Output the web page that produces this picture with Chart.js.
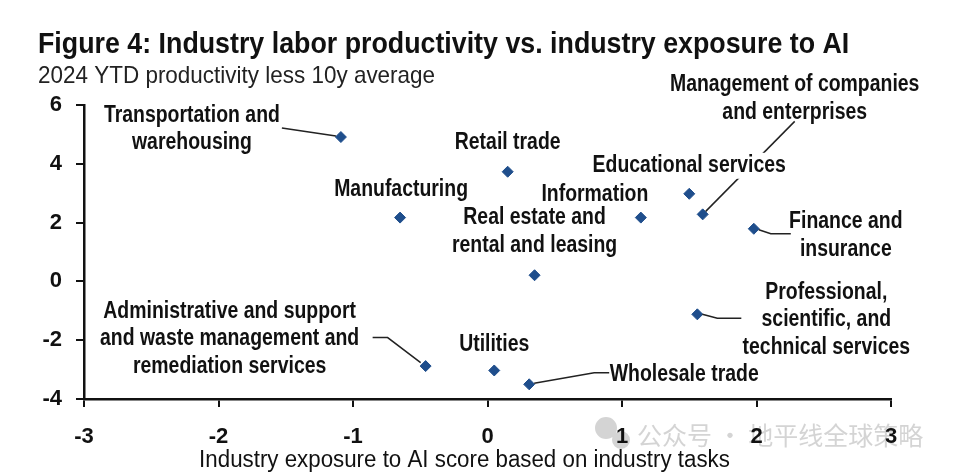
<!DOCTYPE html>
<html>
<head>
<meta charset="utf-8">
<script src="https://cdn.jsdelivr.net/npm/chart.js@4.4.1/dist/chart.umd.min.js"></script>
<style>
  html, body { margin: 0; padding: 0; background: #fff; }
</style>
</head>
<body>
<canvas id="chart" width="960" height="474"></canvas>
<script>
// data
const industries = [
    'Transportation and warehousing',
    'Manufacturing',
    'Retail trade',
    'Information',
    'Real estate and rental and leasing',
    'Educational services',
    'Management of companies and enterprises',
    'Finance and insurance',
    'Professional, scientific, and technical services',
    'Utilities',
    'Wholesale trade',
    'Administrative and support and waste management and remediation services'
];
const aiExposure = [-1.09, -0.65, 0.15, 1.14, 0.35, 1.50, 1.60, 1.98, 1.56, 0.05, 0.31, -0.46];
const productivity = [4.91, 2.17, 3.73, 2.17, 0.21, 2.98, 2.28, 1.79, -1.12, -3.03, -3.50, -2.88];
const xTicks = [-3, -2, -1, 0, 1, 2, 3];
const yTicks = [-4, -2, 0, 2, 4, 6];

const titleText = 'Figure 4: Industry labor productivity vs. industry exposure to AI';
const subtitleText = '2024 YTD productivity less 10y average';
const xTitleText = 'Industry exposure to AI score based on industry tasks';

const FONT = "'Liberation Sans', Arial, sans-serif";

// where each label sits, in pixels from its point
const labelLayout = [
    { lines: ['Transportation and', 'warehousing'], dx: -149, dy: -21, gap: 26.5, leader: [[-59, -9], [-5, -1]] },
    { lines: ['Manufacturing'], dx: 1, dy: -28 },
    { lines: ['Retail trade'], dx: 0, dy: -29 },
    { lines: ['Information'], dx: -46, dy: -23 },
    { lines: ['Real estate and', 'rental and leasing'], dx: 0, dy: -58, gap: 28.5 },
    { lines: ['Educational services'], dx: 0, dy: -28, knockout: true },
    { lines: ['Management of companies', 'and enterprises'], dx: 92, dy: -130, gap: 28.3, leader: [[92, -93], [3, -3]] },
    { lines: ['Finance and', 'insurance'], dx: 92, dy: -7, gap: 28, leader: [[5, 1], [17, 5], [37, 5]] },
    { lines: ['Professional,', 'scientific, and', 'technical services'], dx: 129, dy: -22, gap: 27.5, leader: [[5, 0], [20, 4], [44, 4]] },
    { lines: ['Utilities'], dx: 0, dy: -26 },
    { lines: ['Wholesale trade'], dx: 155, dy: -10, leader: [[5, -1], [65, -11.5], [80, -11.5]] },
    { lines: ['Administrative and support', 'and waste management and', 'remediation services'], dx: -196, dy: -54.5, gap: 27.3, leader: [[-53, -28.5], [-38, -28.5], [-5, -3.5]] }
];

// no narrow face is installed, so squeeze the text horizontally
function narrowText(ctx, txt, x, y, font, sx, align) {
    ctx.save();
    ctx.font = font;
    ctx.textAlign = align;
    ctx.textBaseline = 'middle';
    ctx.scale(sx, 1);
    ctx.fillText(txt, x / sx, y);
    ctx.restore();
}

const pointLabels = {
    id: 'pointLabels',
    beforeDraw(chart) {
        // faint watermark from the source image
        const ctx = chart.ctx;
        ctx.save();
        ctx.fillStyle = 'rgba(170,170,170,0.5)';
        ctx.beginPath();
        ctx.arc(606, 428, 11, 0, Math.PI * 2);
        ctx.arc(621, 440, 9, 0, Math.PI * 2);
        ctx.fill();
        ctx.font = "25px 'Noto Sans CJK SC', sans-serif";
        ctx.textBaseline = 'middle';
        ctx.fillText('公众号 · 地平线全球策略', 637, 435);
        ctx.restore();
    },
    afterDatasetsDraw(chart) {
        const ctx = chart.ctx;
        const pts = chart.getDatasetMeta(0).data;
        ctx.save();
        ctx.strokeStyle = '#222';
        ctx.lineWidth = 1.5;
        labelLayout.forEach((lab, i) => {
            if (!lab.leader) return;
            const p = pts[i];
            ctx.beginPath();
            lab.leader.forEach(([ox, oy], k) => {
                if (k === 0) ctx.moveTo(p.x + ox, p.y + oy);
                else ctx.lineTo(p.x + ox, p.y + oy);
            });
            ctx.stroke();
        });
        const font = 'bold 23px ' + FONT;
        const sx = 0.845;
        ctx.font = font;
        labelLayout.forEach((lab, i) => {
            const p = pts[i];
            lab.lines.forEach((txt, k) => {
                const x = p.x + lab.dx;
                const y = p.y + lab.dy + k * (lab.gap || 27.5);
                if (lab.knockout) {
                    const w = ctx.measureText(txt).width * sx;
                    ctx.fillStyle = '#fff';
                    ctx.fillRect(x - w / 2 - 2, y - 13, w + 4, 26);
                }
                ctx.fillStyle = '#111';
                narrowText(ctx, txt, x, y, font, sx, 'center');
            });
        });
        ctx.restore();
    },
    afterDraw(chart) {
        const ctx = chart.ctx;
        ctx.save();
        ctx.fillStyle = '#111';
        narrowText(ctx, titleText, 38, 45, 'bold 30px ' + FONT, 0.893, 'left');
        ctx.fillStyle = '#222';
        narrowText(ctx, subtitleText, 38, 76, '24px ' + FONT, 0.936, 'left');
        ctx.fillStyle = '#111';
        const cx = (chart.scales.y.left + chart.chartArea.right) / 2;
        narrowText(ctx, xTitleText, cx, 461, '23px ' + FONT, 0.97, 'center');
        ctx.restore();
    }
};

function makeChart() {
    const ctx = document.getElementById('chart').getContext('2d');
    new Chart(ctx, {
        type: 'scatter',
        data: {
            datasets: [{
                label: 'Industries',
                data: aiExposure.map((x, i) => ({ x, y: productivity[i] })),
                backgroundColor: '#1f4e8c',
                borderColor: '#1f4e8c',
                pointStyle: 'rectRot',
                pointRadius: 5.5,
                pointHoverRadius: 5.5
            }]
        },
        options: {
            responsive: false,
            animation: false,
            layout: { padding: { left: 38, right: 69, top: 105, bottom: 0 } },
            plugins: {
                legend: { display: false },
                tooltip: { enabled: false },
                title: { display: false },
                subtitle: { display: false }
            },
            scales: {
                x: {
                    type: 'linear',
                    min: -3,
                    max: 3,
                    afterFit: s => { s.height = 75; },
                    afterBuildTicks: s => { s.ticks = xTicks.map(v => ({ value: v })); },
                    border: { display: true, color: '#111', width: 2.5 },
                    grid: { drawOnChartArea: false, drawTicks: true, tickLength: 8, color: '#111', lineWidth: 2 },
                    ticks: { color: '#111', padding: 17, font: { family: FONT, size: 22, weight: 'bold' } }
                },
                y: {
                    type: 'linear',
                    min: -4,
                    max: 6,
                    afterFit: s => { s.width = 46; },
                    afterBuildTicks: s => { s.ticks = yTicks.map(v => ({ value: v })); },
                    border: { display: true, color: '#111', width: 2.5 },
                    grid: { drawOnChartArea: false, drawTicks: true, tickLength: 8, color: '#111', lineWidth: 2 },
                    ticks: { color: '#111', padding: 14, font: { family: FONT, size: 22, weight: 'bold' } }
                }
            }
        },
        plugins: [pointLabels]
    });
}

document.fonts.load("bold 23px 'Liberation Sans'").then(makeChart, makeChart);
</script>
</body>
</html>
